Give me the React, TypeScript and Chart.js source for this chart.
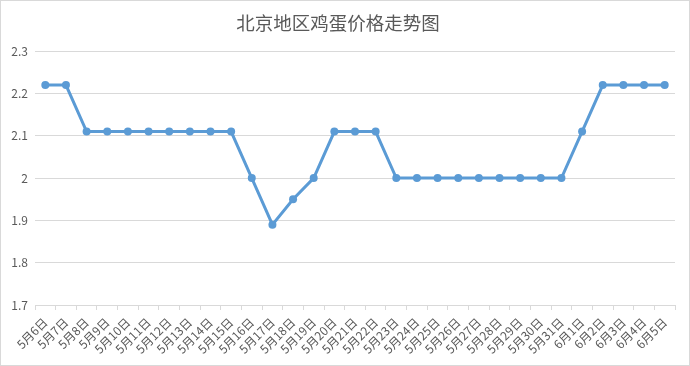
import React, { useEffect, useRef } from "react";
import { Chart, registerables } from "chart.js";

Chart.register(...registerables);

const categories = [
  "5月6日", "5月7日", "5月8日", "5月9日", "5月10日", "5月11日", "5月12日", "5月13日",
  "5月14日", "5月15日", "5月16日", "5月17日", "5月18日", "5月19日", "5月20日", "5月21日",
  "5月22日", "5月23日", "5月24日", "5月25日", "5月26日", "5月27日", "5月28日", "5月29日",
  "5月30日", "5月31日", "6月1日", "6月2日", "6月3日", "6月4日", "6月5日",
];

const prices = [
  2.22, 2.22, 2.11, 2.11, 2.11, 2.11, 2.11, 2.11,
  2.11, 2.11, 2.0, 1.89, 1.95, 2.0, 2.11, 2.11,
  2.11, 2.0, 2.0, 2.0, 2.0, 2.0, 2.0, 2.0,
  2.0, 2.0, 2.11, 2.22, 2.22, 2.22, 2.22,
];

const title = "北京地区鸡蛋价格走势图";
const yMin = 1.7;
const yMax = 2.3;
const yStep = 0.1;

const FONT = "'Noto Sans CJK SC', 'Microsoft YaHei', sans-serif";
const TEXT = "#595959";
const GRID = "#D9D9D9";
const LINE = "#5B9BD5";

export default function App() {
  const ref = useRef<HTMLCanvasElement | null>(null);

  useEffect(() => {
    document.body.style.margin = "0";
    const ctx = ref.current;
    if (!ctx) return;
    const chart = new Chart(ctx, {
      type: "line",
      data: {
        labels: categories,
        datasets: [
          {
            data: prices,
            borderColor: LINE,
            backgroundColor: LINE,
            borderWidth: 3,
            pointRadius: 4,
            pointBackgroundColor: LINE,
            pointBorderColor: LINE,
            pointBorderWidth: 0,
            tension: 0,
          },
        ],
      },
      options: {
        responsive: false,
        animation: false,
        layout: { padding: { left: 0, right: 14, top: 0, bottom: 0 } },
        plugins: {
          legend: { display: false },
          tooltip: { enabled: false },
          title: {
            display: true,
            text: title,
            color: TEXT,
            font: { family: FONT, size: 18.5, weight: "normal" },
            padding: { top: 11, bottom: 17 },
          },
        },
        scales: {
          x: {
            type: "category",
            offset: true,
            grid: {
              display: true,
              drawOnChartArea: false,
              drawTicks: true,
              tickLength: 5,
              offset: true,
              color: GRID,
            },
            border: { display: true, color: GRID },
            ticks: {
              color: TEXT,
              font: { family: FONT, size: 12 },
              minRotation: 45,
              maxRotation: 45,
              autoSkip: false,
              padding: 5,
            },
            afterFit: (scale: any) => {
              scale.height = 60;
            },
          },
          y: {
            min: yMin,
            max: yMax,
            grid: { color: GRID, drawTicks: false },
            border: { display: false },
            ticks: {
              stepSize: yStep,
              color: TEXT,
              font: { family: FONT, size: 12 },
              padding: 7,
              callback: (v: any) => String(Number(Number(v).toFixed(1))),
            },
            afterFit: (scale: any) => {
              scale.width = 34;
            },
          },
        },
      },
    });
    return () => chart.destroy();
  }, []);

  return (
    <div
      style={{
        width: 690,
        height: 366,
        border: "1px solid #D9D9D9",
        boxSizing: "border-box",
        background: "#fff",
      }}
    >
      <canvas ref={ref} width={688} height={364} style={{ display: "block" }} />
    </div>
  );
}
